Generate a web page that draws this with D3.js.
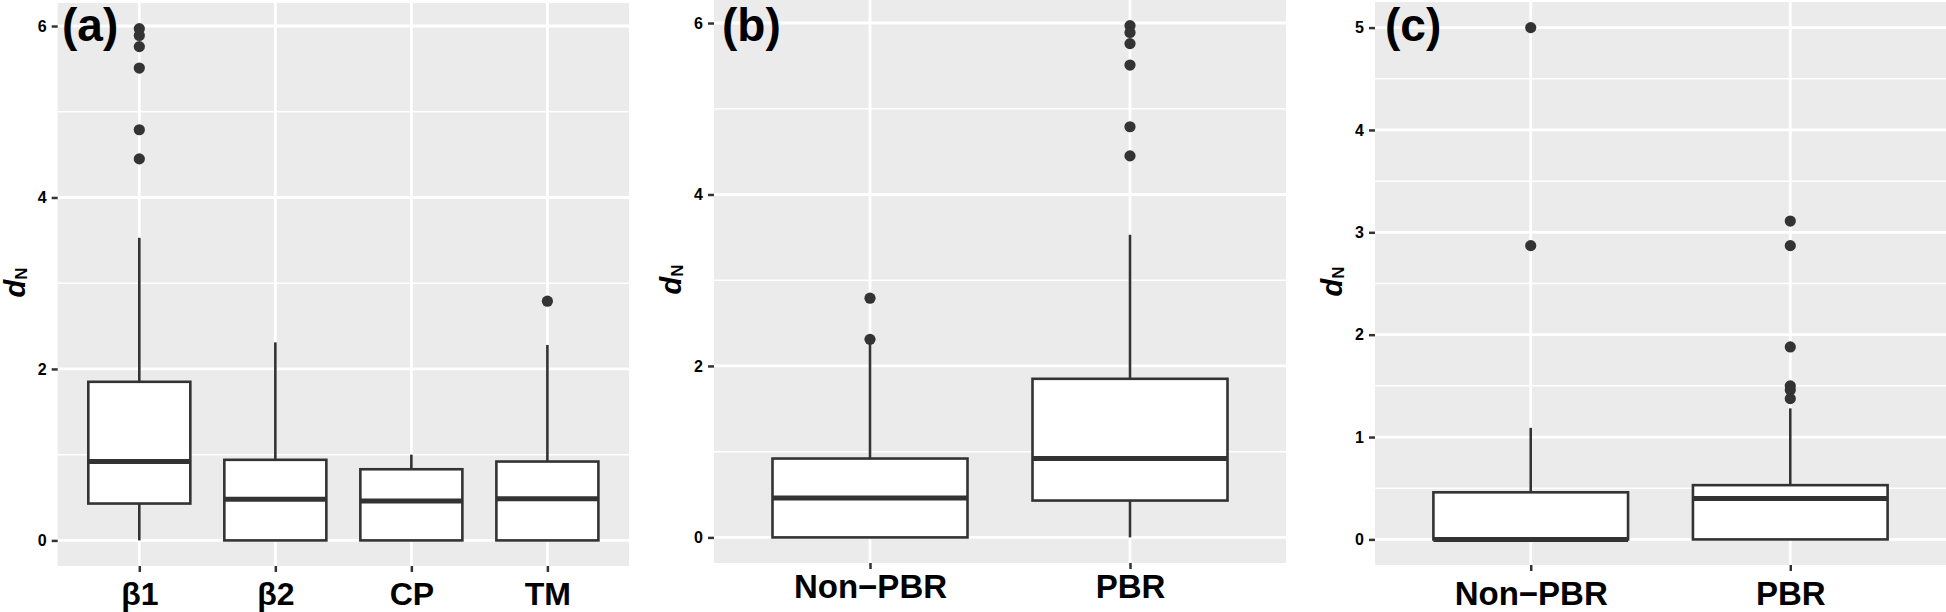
<!DOCTYPE html>
<html>
<head>
<meta charset="utf-8">
<script src="https://cdn.jsdelivr.net/npm/d3@7"></script>
<style>
  body { margin: 0; background: #fff; }
  svg text { font-family: "Liberation Sans", Arial, sans-serif; font-weight: bold; }
</style>
</head>
<body>
<svg id="chart" width="1946" height="612"></svg>
<script>
//Panel (a) - by domain
var catsA = ["β1", "β2", "CP", "TM"],
  lowA = [0, 0, 0, 0],
  q1A = [0.43, 0, 0, 0],
  medA = [0.92, 0.48, 0.46, 0.485],
  q3A = [1.85, 0.94, 0.83, 0.92],
  highA = [3.53, 2.31, 1.0, 2.28],
  outA = [[5.97, 5.89, 5.76, 5.51, 4.79, 4.45], [], [], [2.79]];

//Panel (b)
var catsB = ["Non−PBR", "PBR"],
  lowB = [0, 0],
  q1B = [0, 0.43],
  medB = [0.46, 0.92],
  q3B = [0.92, 1.85],
  highB = [2.28, 3.53],
  outB = [[2.31, 2.79], [5.97, 5.89, 5.76, 5.51, 4.79, 4.45]];

//Panel (c)
var catsC = ["Non−PBR", "PBR"],
  lowC = [0, 0],
  q1C = [0, 0],
  medC = [0, 0.4],
  q3C = [0.46, 0.53],
  highC = [1.09, 1.28],
  outC = [[5.0, 2.87], [3.11, 2.87, 1.88, 1.5, 1.46, 1.375]];

var ticksAB = [0, 2, 4, 6],
  minorAB = [1, 3, 5],
  ticksC = [0, 1, 2, 3, 4, 5],
  minorC = [0.5, 1.5, 2.5, 3.5, 4.5];

// layout of the three panels (pixels)
var panels = [
  { tag: "(a)", cats: catsA, low: lowA, q1: q1A, med: medA, q3: q3A, high: highA, out: outA,
    ticks: ticksAB, minor: minorAB, left: 57.7, right: 629, top: 3, bottom: 566,
    tagX: 62, xFont: 32, xPad: 10 },
  { tag: "(b)", cats: catsB, low: lowB, q1: q1B, med: medB, q3: q3B, high: highB, out: outB,
    ticks: ticksAB, minor: minorAB, left: 714, right: 1286, top: 0, bottom: 563,
    tagX: 722, xFont: 33, xPad: 5.5 },
  { tag: "(c)", cats: catsC, low: lowC, q1: q1C, med: medC, q3: q3C, high: highC, out: outC,
    ticks: ticksC, minor: minorC, left: 1375, right: 1946, top: 2, bottom: 565,
    tagX: 1385, xFont: 33, xPad: 10.5 },
];

var svg = d3.select("#chart"),
  ink = "#333333";

panels.forEach((p) => {
  var g = svg.append("g");

  // y range like ggplot: data range + 5% each side
  var vals = p.low.concat(p.high, d3.merge(p.out)),
    lo = d3.min(vals),
    hi = d3.max(vals),
    pad = (hi - lo) * 0.05;

  var y = d3.scaleLinear().domain([lo - pad, hi + pad]).range([p.bottom, p.top]);
  var x = d3.scalePoint().domain(p.cats).range([p.left, p.right]).padding(0.6);
  var bw = x.step() * 0.75;

  g.append("rect")
    .attr("x", p.left)
    .attr("y", p.top)
    .attr("width", p.right - p.left)
    .attr("height", p.bottom - p.top)
    .attr("fill", "#EBEBEB");

  // grid
  g.selectAll(".minor")
    .data(p.minor)
    .enter()
    .append("line")
    .attr("x1", p.left)
    .attr("x2", p.right)
    .attr("y1", (d) => y(d))
    .attr("y2", (d) => y(d))
    .attr("stroke", "#fff")
    .attr("stroke-width", 1.5);
  g.selectAll(".major")
    .data(p.ticks)
    .enter()
    .append("line")
    .attr("x1", p.left)
    .attr("x2", p.right)
    .attr("y1", (d) => y(d))
    .attr("y2", (d) => y(d))
    .attr("stroke", "#fff")
    .attr("stroke-width", 2.8);
  g.selectAll(".vgrid")
    .data(p.cats)
    .enter()
    .append("line")
    .attr("x1", (d) => x(d))
    .attr("x2", (d) => x(d))
    .attr("y1", p.top)
    .attr("y2", p.bottom)
    .attr("stroke", "#fff")
    .attr("stroke-width", 2.8);

  // axes
  var yAxis = g.append("g")
    .attr("transform", "translate(" + p.left + ",0)")
    .call(d3.axisLeft(y).tickValues(p.ticks).tickSize(6).tickPadding(5).tickFormat(d3.format("d")));
  yAxis.select(".domain").remove();
  yAxis.selectAll("line").attr("stroke", ink).attr("stroke-width", 2.5);
  yAxis.selectAll("text").style("font-size", "16px").attr("fill", "#000");

  var xAxis = g.append("g")
    .attr("transform", "translate(0," + p.bottom + ")")
    .call(d3.axisBottom(x).tickSize(6).tickPadding(p.xPad));
  xAxis.select(".domain").remove();
  xAxis.selectAll("line").attr("stroke", ink).attr("stroke-width", 2.5);
  xAxis.selectAll("text").style("font-size", p.xFont + "px").attr("fill", "#000");

  // boxes
  p.cats.forEach((c, i) => {
    var cx = x(c);
    g.append("line")
      .attr("x1", cx).attr("x2", cx)
      .attr("y1", y(p.high[i])).attr("y2", y(p.q3[i]))
      .attr("stroke", ink).attr("stroke-width", 2.6);
    g.append("line")
      .attr("x1", cx).attr("x2", cx)
      .attr("y1", y(p.q1[i])).attr("y2", y(p.low[i]))
      .attr("stroke", ink).attr("stroke-width", 2.6);
    g.append("rect")
      .attr("x", cx - bw / 2)
      .attr("y", y(p.q3[i]))
      .attr("width", bw)
      .attr("height", y(p.q1[i]) - y(p.q3[i]))
      .attr("fill", "#fff")
      .attr("stroke", ink)
      .attr("stroke-width", 2.6);
    g.append("line")
      .attr("x1", cx - bw / 2).attr("x2", cx + bw / 2)
      .attr("y1", y(p.med[i])).attr("y2", y(p.med[i]))
      .attr("stroke", ink).attr("stroke-width", 5);
    g.selectAll(".out" + i)
      .data(p.out[i])
      .enter()
      .append("circle")
      .attr("cx", cx)
      .attr("cy", (d) => y(d))
      .attr("r", 5.6)
      .attr("fill", ink);
  });

  // axis title d_N
  var title = g.append("text")
    .attr("transform", "translate(" + (p.left - 33) + "," + ((p.top + p.bottom) / 2 - 2) + ") rotate(-90)")
    .attr("text-anchor", "middle")
    .attr("fill", "#000");
  title.append("tspan").style("font-style", "italic").style("font-size", "29px").text("d");
  title.append("tspan").style("font-size", "17px").attr("dy", 2).text("N");

  // panel tag
  g.append("text")
    .attr("x", p.tagX)
    .attr("y", 41)
    .style("font-size", "46px")
    .attr("fill", "#000")
    .text(p.tag);
});
</script>
</body>
</html>
